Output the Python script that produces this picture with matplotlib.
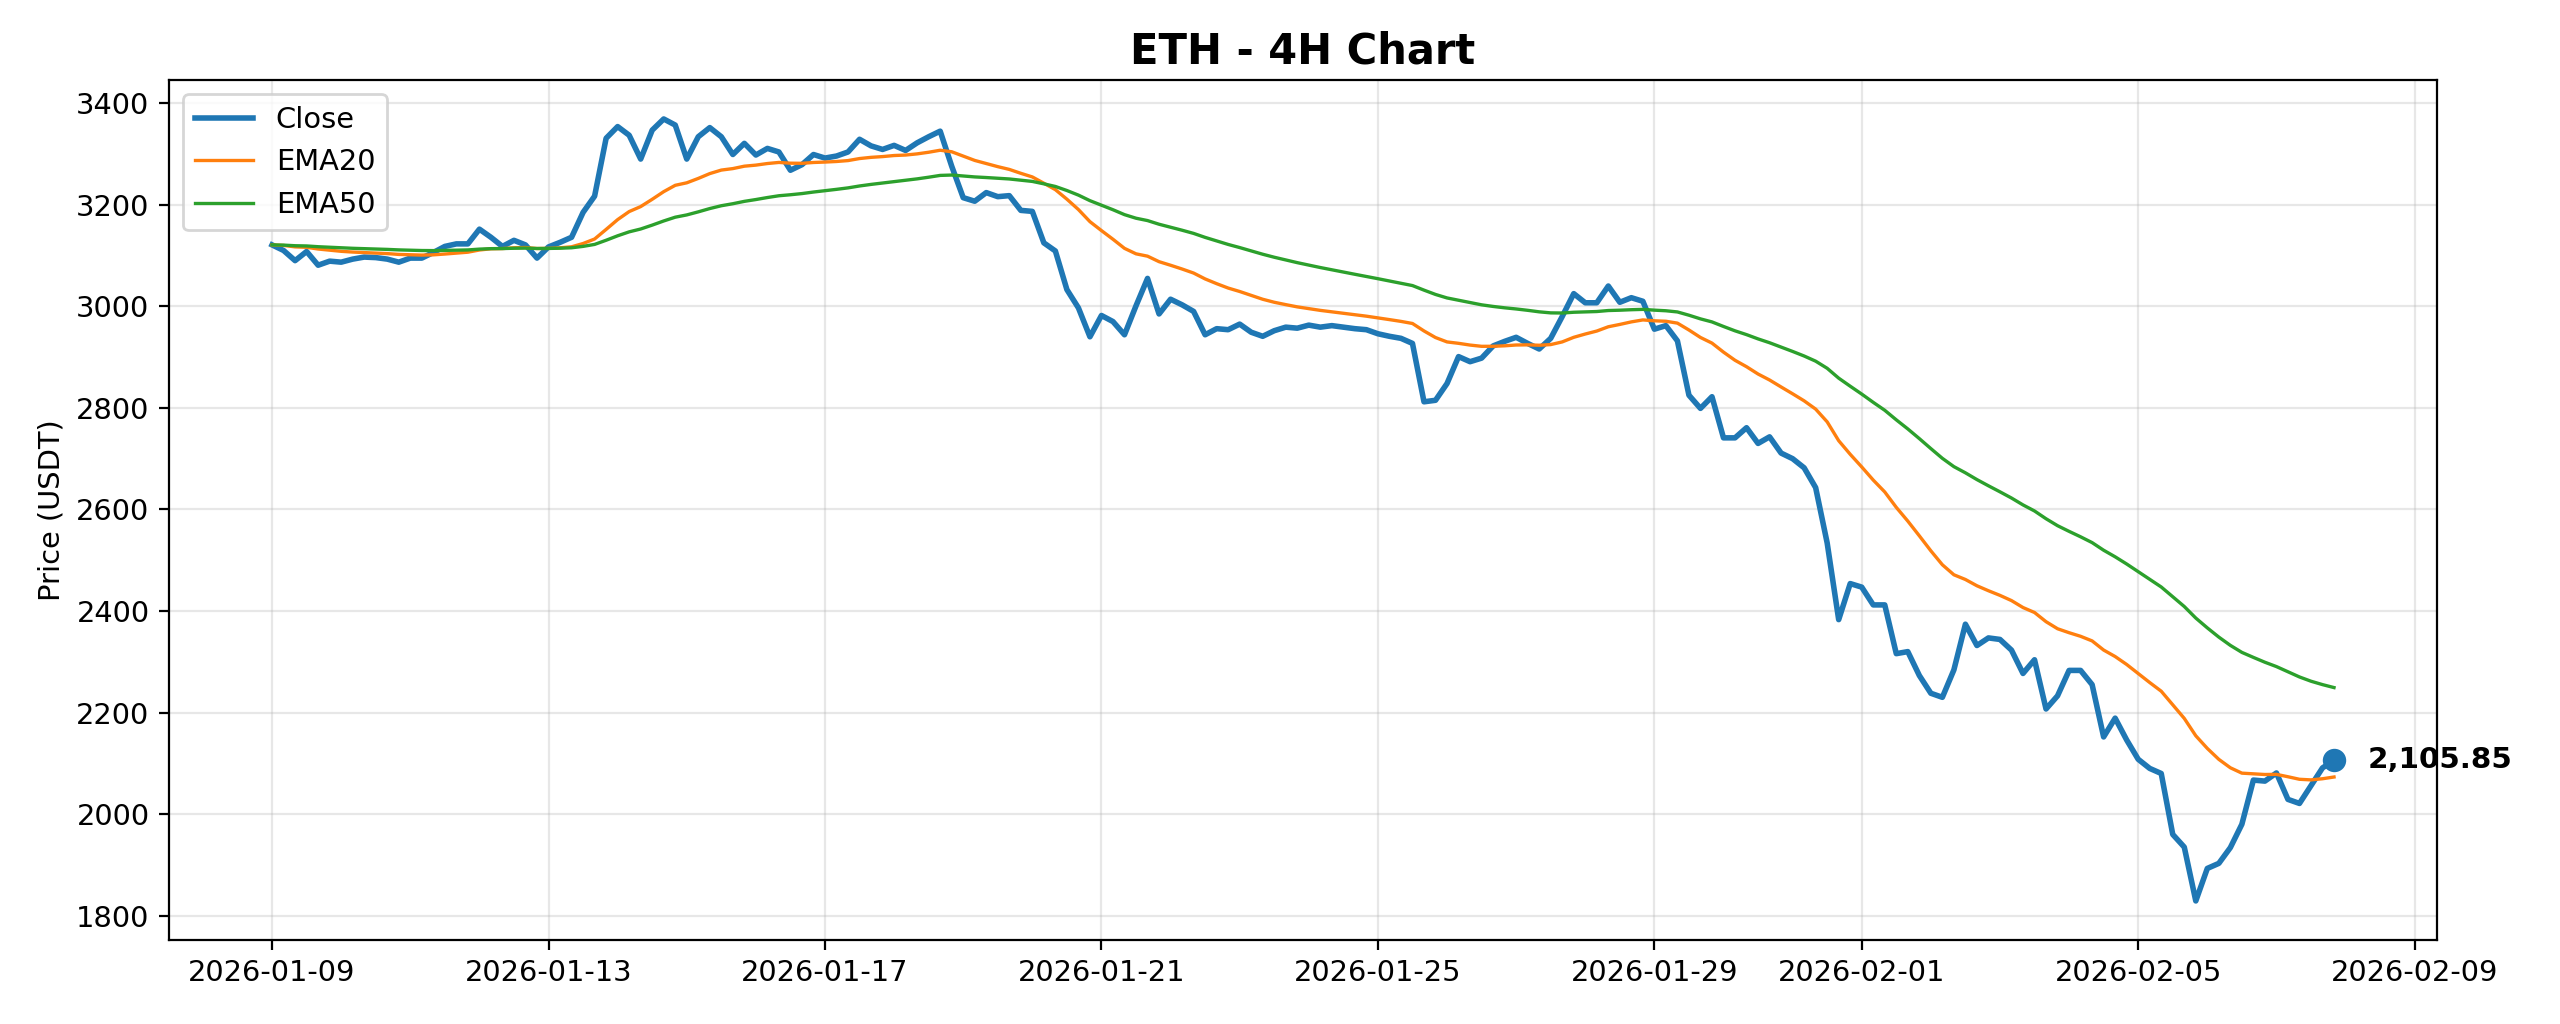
import matplotlib
matplotlib.use("Agg")
import matplotlib.pyplot as plt
import pandas as pd

start_time = "2026-01-09 00:00"
bar_interval = "4h"
close = [
    3121, 3110, 3090, 3108, 3081, 3089, 3087, 3093, 3097, 3096,
    3093, 3087, 3095, 3095, 3106, 3118, 3123, 3123, 3152, 3136,
    3118, 3130, 3121, 3095, 3117, 3126, 3136, 3185, 3217, 3331,
    3354, 3337, 3290, 3347, 3369, 3357, 3290, 3334, 3352, 3334,
    3299, 3321, 3298, 3311, 3304, 3268, 3279, 3299, 3292, 3296,
    3304, 3329, 3316, 3309, 3317, 3307, 3322, 3334, 3345, 3276,
    3214, 3207, 3224, 3216, 3218, 3189, 3187, 3125, 3109, 3033,
    2997, 2940, 2982, 2970, 2944, 3001, 3055, 2985, 3014, 3003,
    2990, 2944, 2956, 2954, 2965, 2949, 2941, 2952, 2959, 2957,
    2963, 2959, 2962, 2959, 2956, 2954, 2946, 2941, 2937, 2927,
    2812, 2815, 2848, 2901, 2891, 2898, 2922, 2931, 2939, 2927,
    2916, 2937, 2980, 3025, 3007, 3007, 3040, 3008, 3017, 3010,
    2955, 2962, 2932, 2825, 2799, 2822, 2741, 2741, 2761, 2730,
    2743, 2711, 2700, 2682, 2643, 2534, 2383, 2454, 2447, 2412,
    2412, 2316, 2320, 2273, 2238, 2230, 2284, 2374, 2332, 2347,
    2344, 2323, 2277, 2304, 2207, 2233, 2283, 2283, 2255, 2152,
    2189, 2146, 2108, 2090, 2080, 1960, 1935, 1829, 1893, 1903,
    1934, 1980, 2067, 2065, 2081, 2029, 2021, 2056, 2091, 2105.85,
]
ema_spans = [20, 50]
title = "ETH - 4H Chart"
ylabel = "Price (USDT)"

dates = pd.date_range(start_time, periods=len(close), freq=bar_interval)
s = pd.Series(close, index=dates)
ema20 = s.ewm(span=ema_spans[0], adjust=False).mean()
ema50 = s.ewm(span=ema_spans[1], adjust=False).mean()

fig, ax = plt.subplots(figsize=(12.8, 5.12), dpi=200)
ax.plot(dates, s.values, color="#1f77b4", lw=2, label="Close")
ax.plot(dates, ema20.values, color="#ff7f0e", lw=1.2, label="EMA20")
ax.plot(dates, ema50.values, color="#2ca02c", lw=1.2, label="EMA50")
ax.scatter([dates[-1]], [close[-1]], s=55, color="#1f77b4", zorder=5)
ax.annotate(f"{close[-1]:,.2f}", xy=(dates[-1], close[-1]), xytext=(12, 0),
            textcoords="offset points", va="center", ha="left",
            fontsize=10.6, fontweight="bold")

ax.set_title(title, fontsize=15, fontweight="bold")
ax.set_ylabel(ylabel, fontsize=10.4)
ax.tick_params(labelsize=10.4)
ax.grid(True, alpha=0.3)
ax.legend(loc="upper left", fontsize=10.4)

fig.subplots_adjust(left=0.066, right=0.952, top=0.922, bottom=0.082)
fig.savefig("out.png", dpi=200)
